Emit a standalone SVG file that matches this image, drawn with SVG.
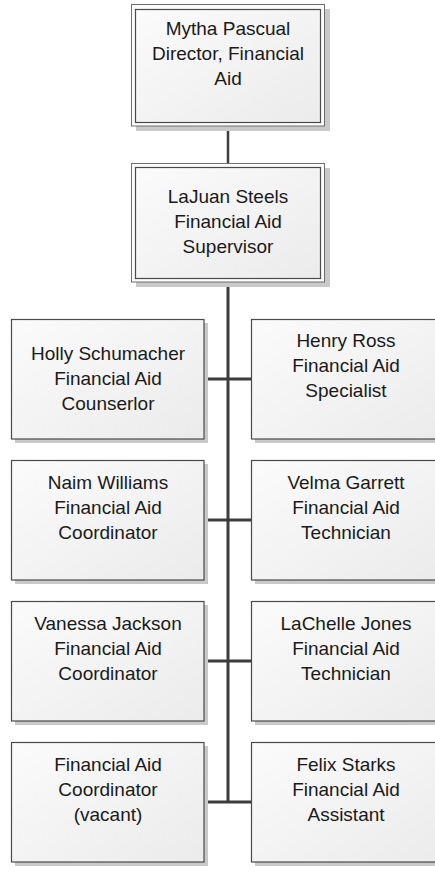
<svg xmlns="http://www.w3.org/2000/svg" width="435" height="875" viewBox="0 0 435 875">
  <defs>
    <linearGradient id="fillG" x1="0" y1="0" x2="1" y2="1">
      <stop offset="0" stop-color="#fbfbfb"/>
      <stop offset="1" stop-color="#ebebeb"/>
    </linearGradient>
  </defs>
  <style>
    .shadow { fill: #c9c9c9; }
    .frame { fill: #fdfdfd; stroke: #6e6e6e; stroke-width: 1; }
    .box { fill: url(#fillG); stroke: #4a4a4a; stroke-width: 1.2; }
    .conn { stroke: #3c3c3c; stroke-width: 3; fill: none; }
    .thin { stroke-width: 2.5; }
    text { font-family: "Liberation Sans", Arial, sans-serif; font-size: 19px; fill: #1a1a1a; text-anchor: middle; }
  </style>
  <rect width="435" height="875" fill="#ffffff"/>

  <g id="connectors">
    <line class="conn thin" x1="228" y1="126" x2="228" y2="163"/>
    <line class="conn" x1="228" y1="282" x2="228" y2="803"/>
    <line class="conn" x1="204" y1="379" x2="251" y2="379"/>
    <line class="conn" x1="204" y1="520" x2="251" y2="520"/>
    <line class="conn" x1="204" y1="661" x2="251" y2="661"/>
    <line class="conn" x1="204" y1="802" x2="251" y2="802"/>
  </g>

  <g id="node-director">
    <rect class="shadow" x="136" y="9" width="194" height="122"/>
    <rect class="frame" x="131.5" y="4.5" width="193" height="121.5"/>
    <rect class="box" x="135.5" y="9.5" width="185" height="113"/>
    <text x="228" y="35">Mytha Pascual</text>
    <text x="228" y="60">Director, Financial</text>
    <text x="228" y="85">Aid</text>
  </g>

  <g id="node-supervisor">
    <rect class="shadow" x="136" y="168" width="194" height="119"/>
    <rect class="frame" x="131.5" y="163.5" width="193" height="118.5"/>
    <rect class="box" x="135.5" y="167.5" width="185" height="111"/>
    <text x="228" y="203">LaJuan Steels</text>
    <text x="228" y="228">Financial Aid</text>
    <text x="228" y="253">Supervisor</text>
  </g>

  <g id="node-holly">
    <rect class="shadow" x="15" y="323" width="193" height="120"/>
    <rect class="box" x="11.5" y="319.5" width="192.5" height="119.5"/>
    <text x="108" y="360">Holly Schumacher</text>
    <text x="108" y="385">Financial Aid</text>
    <text x="108" y="410">Counserlor</text>
  </g>

  <g id="node-henry">
    <rect class="shadow" x="255" y="323" width="193" height="120"/>
    <rect class="box" x="251.5" y="319.5" width="192.5" height="119.5"/>
    <text x="346" y="347">Henry Ross</text>
    <text x="346" y="372">Financial Aid</text>
    <text x="346" y="397">Specialist</text>
  </g>

  <g id="node-naim">
    <rect class="shadow" x="15" y="464" width="193" height="120"/>
    <rect class="box" x="11.5" y="460.5" width="192.5" height="119.5"/>
    <text x="108" y="489">Naim Williams</text>
    <text x="108" y="514">Financial Aid</text>
    <text x="108" y="539">Coordinator</text>
  </g>

  <g id="node-velma">
    <rect class="shadow" x="255" y="464" width="193" height="120"/>
    <rect class="box" x="251.5" y="460.5" width="192.5" height="119.5"/>
    <text x="346" y="489">Velma Garrett</text>
    <text x="346" y="514">Financial Aid</text>
    <text x="346" y="539">Technician</text>
  </g>

  <g id="node-vanessa">
    <rect class="shadow" x="15" y="605" width="193" height="120"/>
    <rect class="box" x="11.5" y="601.5" width="192.5" height="119.5"/>
    <text x="108" y="630">Vanessa Jackson</text>
    <text x="108" y="655">Financial Aid</text>
    <text x="108" y="680">Coordinator</text>
  </g>

  <g id="node-lachelle">
    <rect class="shadow" x="255" y="605" width="193" height="120"/>
    <rect class="box" x="251.5" y="601.5" width="192.5" height="119.5"/>
    <text x="346" y="630">LaChelle Jones</text>
    <text x="346" y="655">Financial Aid</text>
    <text x="346" y="680">Technician</text>
  </g>

  <g id="node-vacant">
    <rect class="shadow" x="15" y="746" width="193" height="120"/>
    <rect class="box" x="11.5" y="742.5" width="192.5" height="119.5"/>
    <text x="108" y="771">Financial Aid</text>
    <text x="108" y="796">Coordinator</text>
    <text x="108" y="821">(vacant)</text>
  </g>

  <g id="node-felix">
    <rect class="shadow" x="255" y="746" width="193" height="120"/>
    <rect class="box" x="251.5" y="742.5" width="192.5" height="119.5"/>
    <text x="346" y="771">Felix Starks</text>
    <text x="346" y="796">Financial Aid</text>
    <text x="346" y="821">Assistant</text>
  </g>
</svg>
